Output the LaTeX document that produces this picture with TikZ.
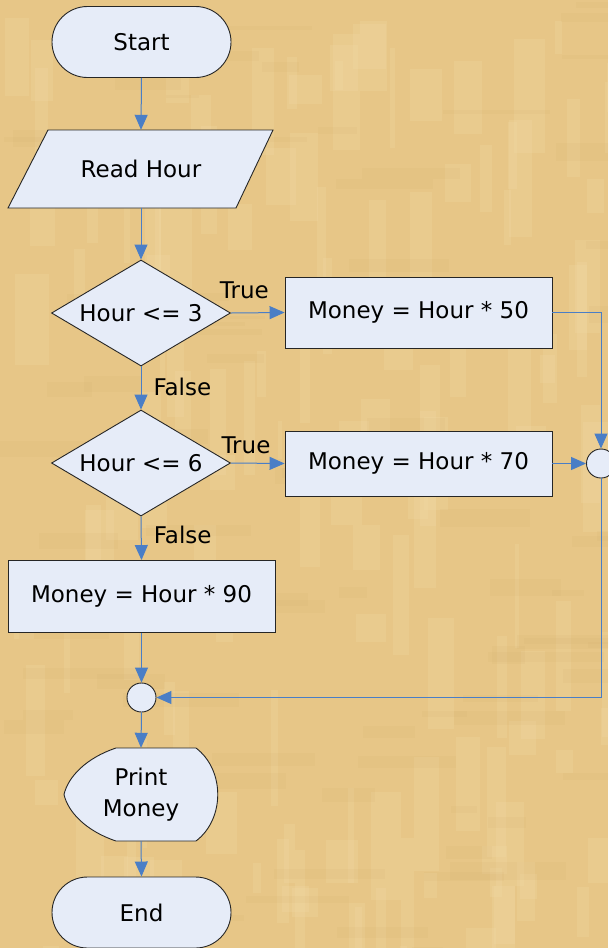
\documentclass[tikz,border=0pt]{standalone}
\usepackage{fontspec}
\setmainfont{DejaVu Sans}
\usetikzlibrary{shapes.geometric,arrows.meta}
\definecolor{paper}{HTML}{E7C687}
\definecolor{paperlight}{HTML}{F3DDAA}
\definecolor{paperdark}{HTML}{C9A060}
\definecolor{boxfill}{HTML}{E6ECF8}
\definecolor{flow}{HTML}{4A7EC6}

\begin{document}
\begin{tikzpicture}[x=1pt,y=-1pt,
  font=\fontsize{23}{27}\selectfont,
  base/.style={draw=black!85, line width=0.9pt, fill=boxfill, inner sep=0pt},
  proc/.style={base, rectangle, minimum width=267pt},
  term/.style={base, rectangle, rounded corners=35.5pt, minimum width=179pt, minimum height=71pt},
  decide/.style={base, diamond, aspect=1.69, minimum width=179pt, minimum height=106pt},
  joint/.style={base, circle, minimum size=29pt},
  flowarrow/.style={draw=flow, line width=1pt, -{Triangle[length=15pt,width=13pt]}},
  lbl/.style={inner sep=0pt}]

\useasboundingbox (0,0) rectangle (608,948);

% parchment background with faint fibres
\begin{scope}
\clip (0,0) rectangle (608,948);
\fill[paper] (0,0) rectangle (608,948);
\pgfmathsetseed{17}
\foreach \i in {1,...,140}{
  \pgfmathsetmacro\px{rnd*608}
  \pgfmathsetmacro\py{rnd*948}
  \pgfmathsetmacro\pw{4+rnd*30}
  \pgfmathsetmacro\ph{20+rnd*100}
  \fill[paperlight, opacity=0.22] (\px,\py) rectangle +(\pw,\ph);
}
\foreach \i in {1,...,90}{
  \pgfmathsetmacro\px{rnd*608}
  \pgfmathsetmacro\py{rnd*948}
  \pgfmathsetmacro\pw{20+rnd*100}
  \pgfmathsetmacro\ph{3+rnd*15}
  \fill[paperdark, opacity=0.08] (\px,\py) rectangle +(\pw,\ph);
}
\end{scope}

% terminals, processes, decisions
\node[term] (start) at (141.5,42) {Start};

\draw[base] (48,130) -- (273,130) -- (236,208) -- (8,208) -- cycle;
\node[lbl, minimum width=190pt, minimum height=78pt] (read) at (141,169) {Read Hour};

\node[decide] (dec1) at (141,313) {Hour <= 3};
\node[proc, minimum height=71pt] (box50) at (418.5,312.5) {Money = Hour * 50};

\node[decide] (dec2) at (141,463) {Hour <= 6};
\node[proc, minimum height=65pt] (box70) at (418.5,463.5) {Money = Hour * 70};

\node[proc, minimum height=72pt] (box90) at (141.5,596.5) {Money = Hour * 90};

\node[joint] (join1) at (601,463.5) {};
\node[joint] (join2) at (141.5,697.5) {};

% display shape for output
\draw[base] (116,748) -- (196,748)
  .. controls (225,770) and (225,819) .. (196,841)
  -- (116,841)
  .. controls (86,831) and (68,812) .. (64,794.5)
  .. controls (68,777) and (86,758) .. (116,748) -- cycle;
\node[lbl, minimum width=154pt, minimum height=93pt, align=center,
      font=\fontsize{23}{31}\selectfont] (print) at (141,794.5) {Print\\Money};

\node[term] (end) at (141.5,912.5) {End};

% connectors
\draw[flowarrow] (start.south) -- (read.north);
\draw[flowarrow] (read.south) -- (dec1.north);
\draw[flowarrow] (dec1.east) -- node[lbl, pos=0.25, anchor=base, yshift=14pt] {True} (box50.west);
\draw[flowarrow] (dec1.south) -- node[lbl, pos=0.68, anchor=base west, xshift=12pt] {False} (dec2.north);
\draw[flowarrow] (dec2.east) -- node[lbl, pos=0.28, anchor=base, yshift=10pt] {True} (box70.west);
\draw[flowarrow] (dec2.south) -- node[lbl, pos=0.62, anchor=base west, xshift=12pt] {False} (box90.north);
\draw[flowarrow] (box50.east) -| (join1.north);
\draw[flowarrow] (box70.east) -- (join1.west);
\draw[flowarrow] (box90.south) -- (join2.north);
\draw[flowarrow] (join1.south) |- (join2.east);
\draw[flowarrow] (join2.south) -- (print.north);
\draw[flowarrow] (print.south) -- (end.north);
\end{tikzpicture}
\end{document}
